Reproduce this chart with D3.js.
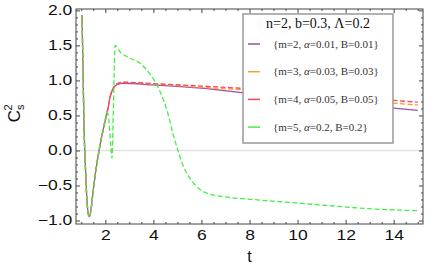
<html>
<head>
<meta charset="utf-8">
<script src="https://d3js.org/d3.v7.min.js"></script>
<style>
  body { margin: 0; background: #fff; }
</style>
</head>
<body>
<svg width="436" height="273"></svg>
<script>
// ---- data ----
var tPurple = [1.03, 1.07, 1.11, 1.18, 1.25, 1.33, 1.40, 1.46, 1.6, 1.74, 1.95, 2.08, 2.22, 2.36, 2.5, 2.74, 4, 6, 8, 10, 12, 14, 15];
var vPurple = [1.93, 1.2, 0.41, -0.30, -0.78, -0.945, -0.86, -0.68, -0.30, 0.0, 0.36, 0.55, 0.79, 0.90, 0.94, 0.96, 0.936, 0.889, 0.812, 0.74, 0.67, 0.605, 0.572];

var tOrange = [1.03, 1.07, 1.11, 1.18, 1.25, 1.33, 1.40, 1.46, 1.6, 1.74, 1.95, 2.08, 2.22, 2.36, 2.5, 2.74, 4, 6, 8, 10, 12, 14, 15];
var vOrange = [1.93, 1.2, 0.41, -0.30, -0.78, -0.945, -0.86, -0.68, -0.30, 0.0, 0.36, 0.55, 0.79, 0.905, 0.95, 0.97, 0.95, 0.9, 0.86, 0.80, 0.74, 0.675, 0.65];

var tRed = [1.03, 1.07, 1.11, 1.18, 1.25, 1.33, 1.40, 1.46, 1.6, 1.74, 1.95, 2.08, 2.22, 2.36, 2.5, 2.74, 4, 6, 8, 10, 12, 14, 15];
var vRed = [1.93, 1.2, 0.41, -0.30, -0.78, -0.945, -0.86, -0.68, -0.30, 0.0, 0.36, 0.55, 0.79, 0.91, 0.955, 0.975, 0.955, 0.92, 0.88, 0.83, 0.775, 0.715, 0.69];

var tGreen = [1.03, 1.07, 1.11, 1.18, 1.25, 1.33, 1.40, 1.46, 1.6, 1.74, 1.95, 2.08, 2.14, 2.22, 2.28, 2.33, 2.41, 2.61, 3.03, 3.45, 3.72, 4.07, 4.42, 4.56, 4.83, 5.04, 5.25, 5.53, 5.81, 6.22, 6.92, 8.03, 10.11, 11.5, 12.89, 15];
var vGreen = [1.93, 1.2, 0.41, -0.30, -0.78, -0.945, -0.86, -0.68, -0.30, 0.0, 0.36, 0.55, 0.45, 0.1, -0.11, 0.5, 1.5, 1.41, 1.317, 1.246, 1.15, 0.983, 0.72, 0.58, 0.22, -0.02, -0.23, -0.40, -0.517, -0.61, -0.66, -0.697, -0.754, -0.793, -0.83, -0.86];

var seriesNames = ["{m=2, \u03B1=0.01, B=0.01}", "{m=3, \u03B1=0.03, B=0.03}", "{m=4, \u03B1=0.05, B=0.05}", "{m=5, \u03B1=0.2, B=0.2}"];
var seriesColors = ["#a04caa", "#ff9933", "#ff4455", "#44ee44"];
var seriesDash = [null, "5,2.5", "5,2.5", "5,2.5"];

var xTicks = [2, 4, 6, 8, 10, 12, 14];
var yTicks = [-1, -0.5, 0, 0.5, 1, 1.5, 2];

var series = [
  { t: tPurple, v: vPurple },
  { t: tOrange, v: vOrange },
  { t: tRed, v: vRed },
  { t: tGreen, v: vGreen }
];

var sansFont = "Liberation Sans, Arial, sans-serif";
var serifFont = "Liberation Serif, Times New Roman, serif";

var svg = d3.select("svg");
var pLeft = 76, pRight = 423, pTop = 9, pBottom = 224;

var x = d3.scaleLinear().domain([0.78, 15.22]).range([pLeft, pRight]);
var y = d3.scaleLinear().domain([-1.05, 2.02]).range([pBottom, pTop]);

// zero line
svg.append("line")
  .attr("x1", pLeft).attr("x2", pRight)
  .attr("y1", y(0)).attr("y2", y(0))
  .attr("stroke", "#e2e2e2").attr("stroke-width", 1.5);

var line = d3.line()
  .x(function(d) { return x(d[0]); })
  .y(function(d) { return y(d[1]); })
  .curve(d3.curveMonotoneX);

var plot = svg.append("g");
series.forEach(function(s, i) {
  var pts = s.t.map(function(t, j) { return [t, s.v[j]]; });
  plot.append("path")
    .attr("d", line(pts))
    .attr("fill", "none")
    .attr("stroke", seriesColors[i])
    .attr("stroke-width", 1.3)
    .attr("stroke-dasharray", seriesDash[i]);
});

// frame + ticks
var xMinor = d3.range(1, 15.01, 0.5).filter(function(d) { return d % 2 != 0; });
var yMinor = d3.range(-1, 2.001, 0.1).map(function(d) { return +d.toFixed(1); })
  .filter(function(d) { return Math.abs(d * 2 - Math.round(d * 2)) > 1e-6; });

function styleAxis(g) {
  g.select(".domain").remove();
  g.selectAll("line").attr("stroke", "#444");
  g.selectAll("text").attr("font-size", 14).attr("fill", "#111")
    .attr("font-family", sansFont)
    .attr("transform", "scale(1.25,1)");
}

svg.append("g").attr("transform", "translate(0," + pBottom + ")")
  .call(d3.axisBottom(x).tickValues(xTicks).tickSize(-4).tickPadding(6).tickFormat(d3.format("d")))
  .call(styleAxis);
svg.append("g").attr("transform", "translate(0," + pBottom + ")")
  .call(d3.axisBottom(x).tickValues(xMinor).tickSize(-2).tickFormat(""))
  .call(styleAxis);
svg.append("g").attr("transform", "translate(0," + pTop + ")")
  .call(d3.axisTop(x).tickValues(xTicks).tickSize(-4).tickFormat(""))
  .call(styleAxis);
svg.append("g").attr("transform", "translate(0," + pTop + ")")
  .call(d3.axisTop(x).tickValues(xMinor).tickSize(-2).tickFormat(""))
  .call(styleAxis);

svg.append("g").attr("transform", "translate(" + pLeft + ",0)")
  .call(d3.axisLeft(y).tickValues(yTicks).tickSize(-4).tickPadding(3).tickFormat(d3.format(".1f")))
  .call(styleAxis);
svg.append("g").attr("transform", "translate(" + pLeft + ",0)")
  .call(d3.axisLeft(y).tickValues(yMinor).tickSize(-2).tickFormat(""))
  .call(styleAxis);
svg.append("g").attr("transform", "translate(" + pRight + ",0)")
  .call(d3.axisRight(y).tickValues(yTicks).tickSize(-4).tickFormat(""))
  .call(styleAxis);
svg.append("g").attr("transform", "translate(" + pRight + ",0)")
  .call(d3.axisRight(y).tickValues(yMinor).tickSize(-2).tickFormat(""))
  .call(styleAxis);

svg.append("rect")
  .attr("x", pLeft).attr("y", pTop)
  .attr("width", pRight - pLeft).attr("height", pBottom - pTop)
  .attr("fill", "none").attr("stroke", "#444").attr("stroke-width", 1);

// axis titles
svg.append("text")
  .attr("x", x(8)).attr("y", 262)
  .attr("text-anchor", "middle").attr("font-size", 16).attr("fill", "#111")
  .attr("font-family", sansFont)
  .text("t");

var yl = svg.append("text")
  .attr("transform", "translate(20," + y(0.53) + ") rotate(-90)")
  .attr("text-anchor", "middle").attr("font-size", 17).attr("fill", "#111")
  .attr("font-family", sansFont);
yl.append("tspan").text("C");
yl.append("tspan").attr("font-size", 11).attr("dy", 4).text("s");
yl.append("tspan").attr("font-size", 11).attr("dx", -6).attr("dy", -12).text("2");

// legend
var lg = svg.append("g");
lg.append("rect")
  .attr("x", 243).attr("y", 14).attr("width", 150).attr("height", 129)
  .attr("fill", "#fff").attr("stroke", "#999").attr("stroke-width", 1.5);
lg.append("text")
  .attr("x", 318).attr("y", 28).attr("text-anchor", "middle")
  .attr("font-family", serifFont)
  .attr("font-size", 14).attr("fill", "#111")
  .text("n=2, b=0.3, \u039B=0.2");

seriesNames.forEach(function(name, i) {
  var yy = 44 + i * 27.7;
  lg.append("line")
    .attr("x1", 248).attr("x2", 260).attr("y1", yy).attr("y2", yy)
    .attr("stroke", seriesColors[i]).attr("stroke-width", 1.5);
  var tx = lg.append("text")
    .attr("x", 273).attr("y", yy + 3.5)
    .attr("font-family", serifFont)
    .attr("font-size", 11).attr("fill", "#333");
  var parts = name.split("\u03B1");
  tx.append("tspan").text(parts[0]);
  tx.append("tspan").attr("font-style", "italic").text("\u03B1");
  tx.append("tspan").text(parts[1]);
});
</script>
</body>
</html>
